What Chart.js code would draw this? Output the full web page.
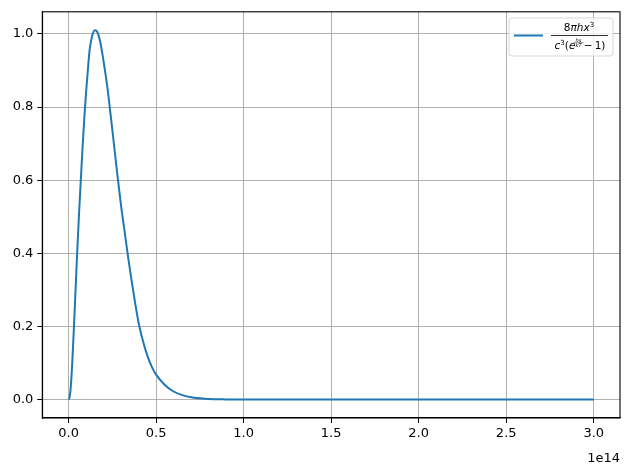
<!DOCTYPE html>
<html>
<head>
<meta charset="utf-8">
<script src="https://cdn.jsdelivr.net/npm/chart.js@4.4.1/dist/chart.umd.min.js"></script>
<style>
  html, body { margin: 0; padding: 0; background: #fff; }
  #wrap { width: 630px; height: 470px; }
</style>
</head>
<body>
<div id="wrap"><canvas id="myChart" width="630" height="470"></canvas></div>
<script>
// frequency in units of 1e13
const freq = [0, 0.05, 0.1, 0.15, 0.2, 0.3, 0.4, 0.5, 0.6, 0.7, 0.8, 0.9, 1.0, 1.1, 1.2, 1.3, 1.4, 1.5, 1.6, 1.7, 1.8, 1.9,
    2.0, 2.2, 2.4, 2.6, 2.8, 3.0, 3.2, 3.4, 3.6, 3.8, 4.0, 4.25, 4.5, 4.75, 5.0, 5.5, 6.0, 6.5, 7.0, 8.0, 9.0, 10,
    12, 15, 20, 25, 30];
const intensity = [0, 0.005, 0.02, 0.05, 0.09, 0.19, 0.30, 0.41, 0.51, 0.60, 0.69, 0.77, 0.84, 0.90, 0.955, 0.985, 1.003, 1.01, 1.008, 0.998, 0.98, 0.955,
    0.925, 0.86, 0.78, 0.695, 0.61, 0.53, 0.46, 0.39, 0.325, 0.265, 0.21, 0.16, 0.12, 0.09, 0.068, 0.04, 0.022, 0.012, 0.006, 0.0015, 0.0004, 0.0001,
    0, 0, 0, 0, 0];
const xTicks = [0, 0.5, 1.0, 1.5, 2.0, 2.5, 3.0];
const yTicks = [0.0, 0.2, 0.4, 0.6, 0.8, 1.0];
const xOffsetLabel = '1e14';

const points = freq.map((f, i) => ({ x: f * 1e13, y: intensity[i] }));
const FONT = "'DejaVu Sans', sans-serif";

// draws runs of text centred on cx
function drawRuns(ctx, runs, cx, baseline) {
    let total = 0;
    runs.forEach(r => {
        ctx.font = (r.italic ? 'italic ' : '') + r.size + 'px ' + FONT;
        r.w = ctx.measureText(r.text).width;
        total += r.w;
    });
    let x = cx - total / 2;
    runs.forEach(r => {
        ctx.font = (r.italic ? 'italic ' : '') + r.size + 'px ' + FONT;
        ctx.fillText(r.text, x, baseline + (r.dy || 0));
        r.x = x;
        x += r.w;
    });
    return runs;
}

const framePlugin = {
    id: 'frame',
    afterDraw(chart) {
        const ctx = chart.ctx;
        const a = chart.chartArea;
        ctx.save();
        ctx.strokeStyle = '#000';
        ctx.lineWidth = 1.1;
        ctx.strokeRect(a.left, a.top, a.right - a.left, a.bottom - a.top);

        // legend box
        const bx = 509, by = 18, bw = 104, bh = 38;
        ctx.beginPath();
        ctx.roundRect(bx, by, bw, bh, 3);
        ctx.fillStyle = 'rgba(255,255,255,0.8)';
        ctx.fill();
        ctx.strokeStyle = '#d6d6d6';
        ctx.lineWidth = 1;
        ctx.stroke();

        ctx.strokeStyle = '#1f77b4';
        ctx.lineWidth = 2;
        ctx.beginPath();
        ctx.moveTo(514, 35.5);
        ctx.lineTo(543, 35.5);
        ctx.stroke();

        ctx.fillStyle = '#000';
        ctx.textBaseline = 'alphabetic';
        ctx.textAlign = 'left';
        drawRuns(ctx, [
            { text: '8', size: 10.5 },
            { text: '\u03c0hx', size: 10.5, italic: true },
            { text: '3', size: 7, dy: -4 }
        ], 579, 31);

        ctx.strokeStyle = '#000';
        ctx.lineWidth = 0.8;
        ctx.beginPath();
        ctx.moveTo(551, 35.5);
        ctx.lineTo(608, 35.5);
        ctx.stroke();

        const den = drawRuns(ctx, [
            { text: 'c', size: 10.5, italic: true },
            { text: '3', size: 7, dy: -4 },
            { text: '(', size: 10.5 },
            { text: 'e', size: 10.5, italic: true },
            { text: '\u2009\u2009\u2009', size: 10.5 },
            { text: '\u2009\u2212\u2009', size: 10.5 },
            { text: '1)', size: 10.5 }
        ], 580, 49);
        // tiny exponent fraction hx/kT
        const ex = den[4].x + den[4].w / 2;
        ctx.font = 'italic 5px ' + FONT;
        ctx.textAlign = 'center';
        ctx.fillText('hx', ex, 41.5);
        ctx.fillText('kT', ex, 46.5);
        ctx.lineWidth = 0.5;
        ctx.beginPath();
        ctx.moveTo(ex - 5, 42.8);
        ctx.lineTo(ex + 5, 42.8);
        ctx.stroke();
        ctx.restore();
    }
};

const ctx = document.getElementById('myChart').getContext('2d');
const chart = new Chart(ctx, {
    type: 'line',
    data: {
        datasets: [{
            label: '8\u03c0hx\u00b3 / (c\u00b3(e^(hx/kT) \u2212 1))',
            data: points,
            borderColor: '#1f77b4',
            borderWidth: 2,
            pointRadius: 0,
            cubicInterpolationMode: 'monotone',
            fill: false
        }]
    },
    options: {
        responsive: false,
        animation: false,
        layout: { padding: { top: 10, right: 10, left: 0, bottom: 0 } },
        plugins: {
            legend: { display: false },
            tooltip: { enabled: false }
        },
        scales: {
            x: {
                type: 'linear',
                min: -0.15e14,
                max: 3.15e14,
                afterBuildTicks: axis => { axis.ticks = xTicks.map(v => ({ value: v * 1e14 })); },
                afterFit: axis => { axis.height = 52; },
                ticks: {
                    color: '#000',
                    font: { family: FONT, size: 13 },
                    padding: 3,
                    maxRotation: 0,
                    callback: v => (v / 1e14).toFixed(1)
                },
                grid: { color: '#b0b0b0', lineWidth: 1, tickLength: 5, tickColor: '#000' },
                border: { color: '#000', width: 1.1 },
                title: {
                    display: true,
                    text: xOffsetLabel,
                    align: 'end',
                    color: '#000',
                    font: { family: FONT, size: 13 },
                    padding: { top: 2 }
                }
            },
            y: {
                min: -0.0505,
                max: 1.0605,
                afterBuildTicks: axis => { axis.ticks = yTicks.map(v => ({ value: v })); },
                afterFit: axis => { axis.width = 42.3; },
                ticks: {
                    color: '#000',
                    font: { family: FONT, size: 13 },
                    padding: 4,
                    callback: v => v.toFixed(1)
                },
                grid: { color: '#b0b0b0', lineWidth: 1, tickLength: 5, tickColor: '#000' },
                border: { color: '#000', width: 1.1 }
            }
        }
    },
    plugins: [framePlugin]
});
</script>
</body>
</html>
